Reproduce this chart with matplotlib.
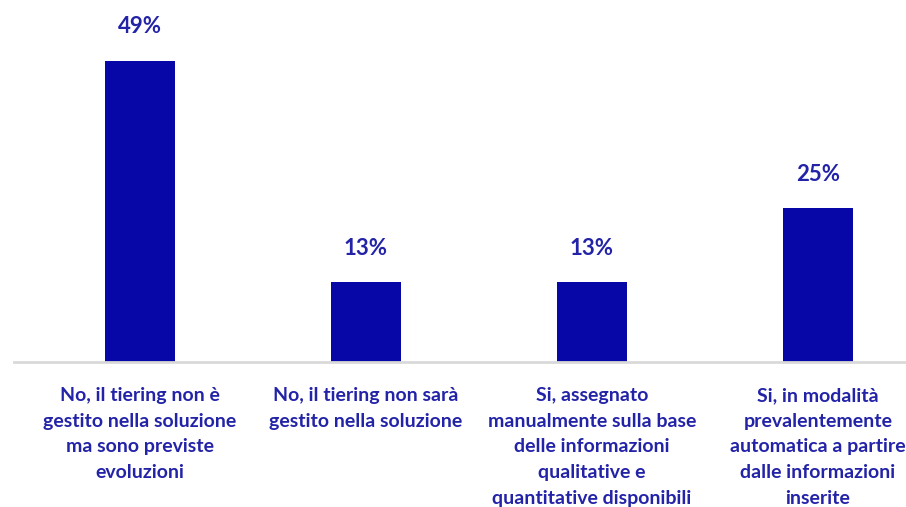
import matplotlib.pyplot as plt

# risposte e percentuali
categorie = [
    "No, il tiering non è\ngestito nella soluzione\nma sono previste\nevoluzioni",
    "No, il tiering non sarà\ngestito nella soluzione",
    "Si, assegnato\nmanualmente sulla base\ndelle informazioni\nqualitative e\nquantitative disponibili",
    "Si, in modalità\nprevalentemente\nautomatica a partire\ndalle informazioni\ninserite",
]
percentuali = [49, 13, 13, 25]

colore_barre = "#0707a8"
colore_testo = "#2323a8"

plt.rcParams["font.family"] = ["Lato", "DejaVu Sans"]

fig = plt.figure(figsize=(9.06, 5.07), dpi=100)
ax = fig.add_axes([14 / 906, (507 - 362) / 507, 892 / 906, 362 / 507])

x = range(len(categorie))
bars = ax.bar(x, percentuali, width=0.31, color=colore_barre, zorder=2)

for b, v in zip(bars, percentuali):
    ax.annotate(f"{v}%", (b.get_x() + b.get_width() / 2, v),
                xytext=(0, 17), textcoords="offset points",
                ha="center", va="bottom", fontsize=16, fontweight="bold",
                color=colore_testo)

ax.set_xlim(-126 / 226, (906 - 140) / 226)
ax.set_ylim(0, 49 * 362 / 301)

ax.set_xticks(list(x))
ax.set_xticklabels(categorie, fontsize=14, fontweight="bold", color=colore_testo,
                   linespacing=1.62)
ax.tick_params(axis="x", length=0, pad=18)
ax.set_yticks([])

for s in ["top", "right", "left"]:
    ax.spines[s].set_visible(False)
ax.spines["bottom"].set_color("#d9d9d9")
ax.spines["bottom"].set_linewidth(2)

plt.savefig("out.png", dpi=100)
